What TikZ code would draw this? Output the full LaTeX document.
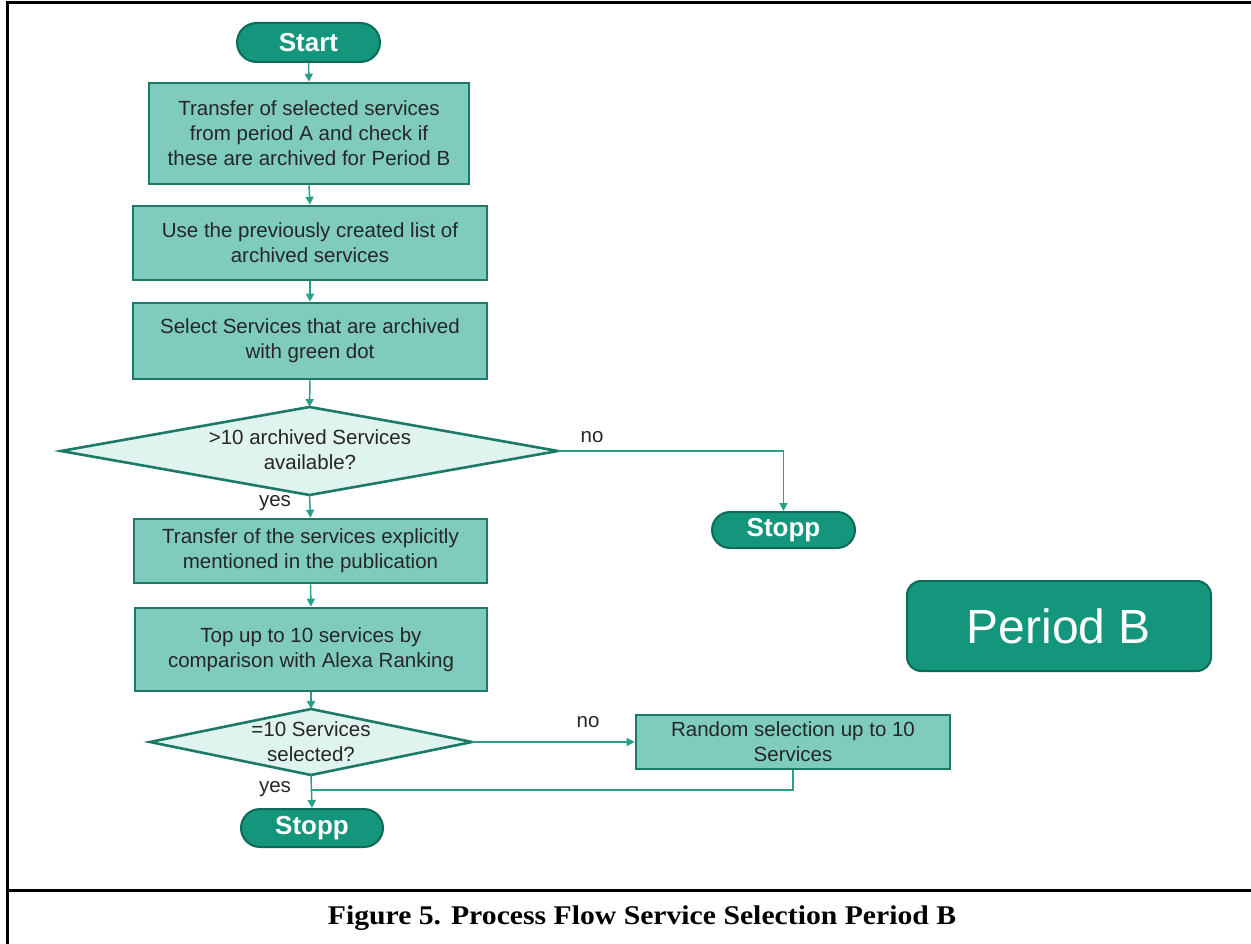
\documentclass[tikz,border=0pt]{standalone}
\usepackage{fontspec}
\setmainfont{Liberation Sans}
\newfontfamily\capfont{Liberation Serif}
\usetikzlibrary{shapes.geometric,shapes.misc,arrows.meta}

\definecolor{boxfill}{HTML}{7FCCBF}
\definecolor{boxline}{HTML}{1D7A66}
\definecolor{pillfill}{HTML}{13967B}
\definecolor{pillline}{HTML}{0E6B58}
\definecolor{decfill}{HTML}{DFF3EF}
\definecolor{flow}{HTML}{26A08A}

\tikzset{
  stepbox/.style={draw=boxline, fill=boxfill, line width=2.6pt, align=center,
    inner sep=0pt, font=\fontsize{20.5}{25}\selectfont, text=black!85},
  pill/.style={rounded rectangle, draw=pillline, fill=pillfill, line width=2pt,
    inner sep=0pt, text=white, font=\fontsize{26}{30}\selectfont\bfseries},
  decision/.style={diamond, draw=boxline, fill=decfill, line width=2.6pt,
    inner sep=0pt, outer sep=0pt},
  dectext/.style={align=center, font=\fontsize{20.5}{25}\selectfont, text=black!85},
  lbl/.style={font=\fontsize{20.5}{25}\selectfont, text=black!85},
  conn/.style={draw=flow, line width=1.5pt, -{Triangle[length=8pt,width=8pt]}},
  plain/.style={draw=flow, line width=1.5pt},
  frame/.style={line width=3pt, draw=black}
}

\begin{document}
\begin{tikzpicture}[x=1pt, y=-1pt]
\useasboundingbox (0,0) rectangle (1251,944);

% outer frame and caption separator
\draw[frame] (7,944) -- (7,3) -- (1251,3);
\draw[frame] (7,890) -- (1251,890);

% main column
\node[pill, minimum width=143pt, minimum height=39pt] (start) at (308.5,42.5) {Start};
\node[stepbox, minimum width=320pt, minimum height=101pt] (b1) at (309,133.5)
  {Transfer of selected services\\from period A and check if\\these are archived for Period B};
\node[stepbox, minimum width=354pt, minimum height=74pt] (b2) at (310,243)
  {Use the previously created list of\\archived services};
\node[stepbox, minimum width=354pt, minimum height=76pt] (b3) at (310,341)
  {Select Services that are archived\\with green dot};
\node[decision, minimum width=497pt, minimum height=88pt] (d1) at (309.5,451) {};
\node[dectext] (d1t) at (310,450) {>10 archived Services\\available?};
\node[pill, minimum width=143pt, minimum height=36pt] (stop1) at (783.5,530) {Stopp};
\node[stepbox, minimum width=353pt, minimum height=64pt] (b4) at (310.5,551)
  {Transfer of the services explicitly\\mentioned in the publication};
\node[stepbox, minimum width=352pt, minimum height=83pt] (b5) at (311,649.5)
  {Top up to 10 services by\\comparison with Alexa Ranking};
\node[decision, minimum width=322pt, minimum height=66pt] (d2) at (311,742) {};
\node[dectext] (d2t) at (311,742) {=10 Services\\selected?};
\node[stepbox, minimum width=314pt, minimum height=54pt] (b6) at (793,742)
  {Random selection up to 10\\Services};
\node[pill, minimum width=142pt, minimum height=38pt] (stop2) at (312,828) {Stopp};

% period badge
\node[draw=pillline, fill=pillfill, line width=2pt, rounded corners=14pt,
  minimum width=304pt, minimum height=90pt, inner sep=0pt, text=white,
  font=\fontsize{48}{56}\selectfont] (period) at (1059,626) {Period B};

% branch labels
\node[lbl] (no1) at (592,437) {no};
\node[lbl] (yes1) at (275,503) {yes};
\node[lbl] (no2) at (588,722) {no};
\node[lbl] (yes2) at (275,789) {yes};

% connectors
\draw[conn] (start.south) -- (b1.north);
\draw[conn] (b1.south) -- (b2.north);
\draw[conn] (b2.south) -- (b3.north);
\draw[conn] (b3.south) -- (d1.north);
\draw[conn] (d1.east) -| (stop1.north);
\draw[conn] (d1.south) -- (b4.north);
\draw[conn] (b4.south) -- (b5.north);
\draw[conn] (b5.south) -- (d2.north);
\draw[conn] (d2.east) -- (b6.west);
\draw[conn] (d2.south) -- (stop2.north);
\coordinate (join) at (311,790);
\draw[plain] (b6.south) |- (join);

% caption
\node[anchor=base, inner sep=0pt] (cap) at (642,924)
  {\scalebox{1.1}[1]{\capfont\bfseries\fontsize{27}{31}\selectfont Figure 5. Process Flow Service Selection Period B}};
\end{tikzpicture}
\end{document}
